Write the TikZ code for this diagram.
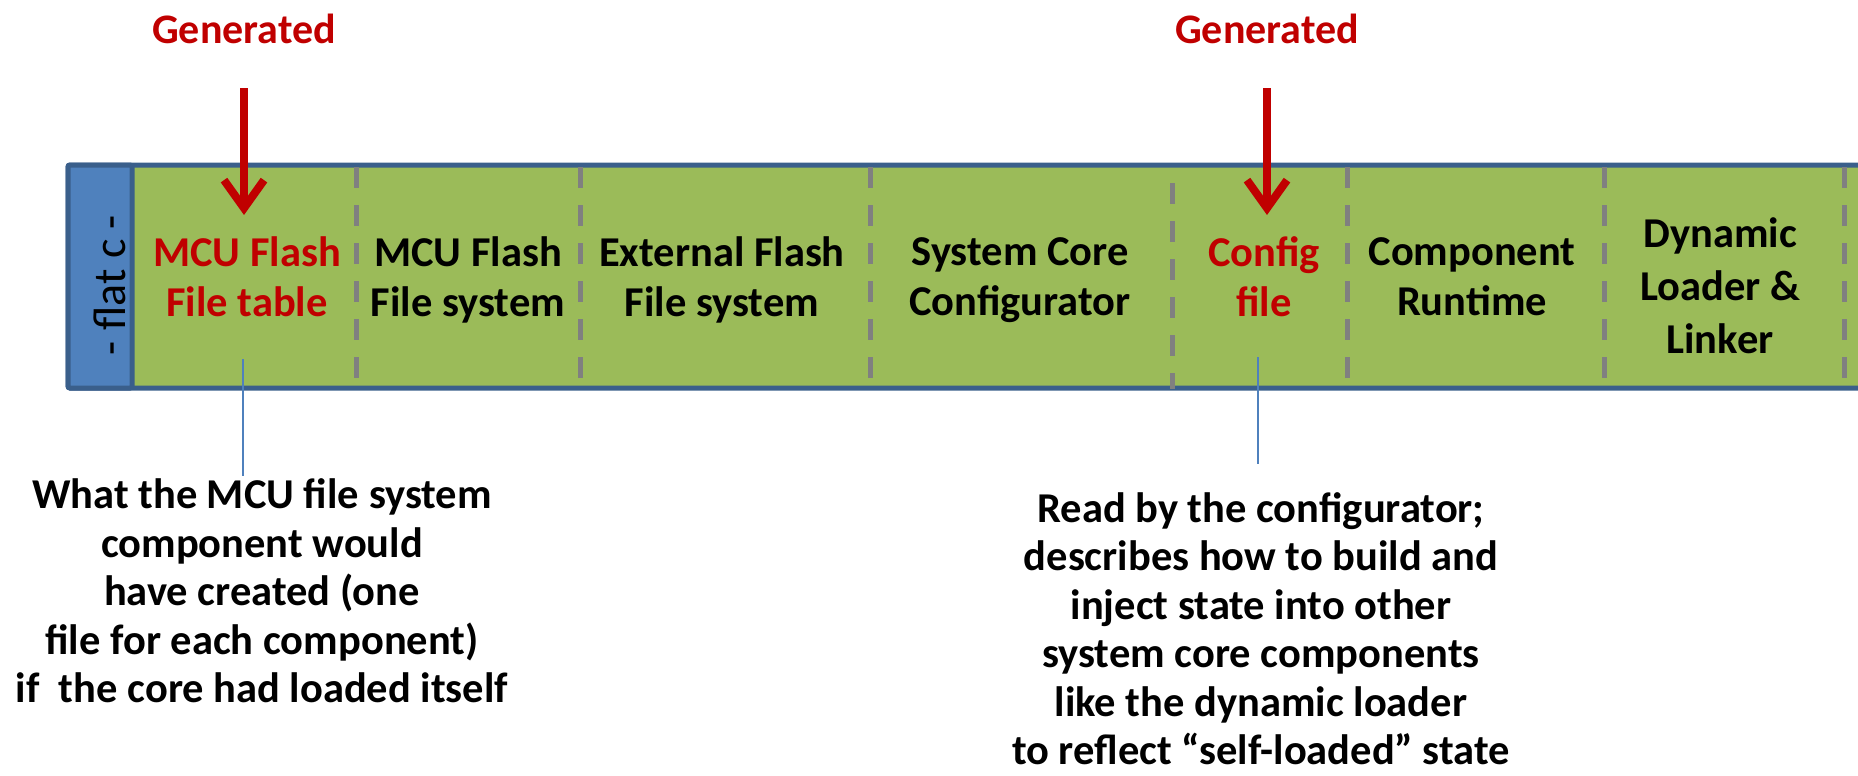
\documentclass[tikz,border=0pt]{standalone}
\usepackage{fontspec}
\setmainfont{Carlito}
\usetikzlibrary{arrows.meta}

\definecolor{barfill}{HTML}{9BBB59}
\definecolor{boxblue}{HTML}{4F81BD}
\definecolor{edgeblue}{HTML}{3A5F8B}
\definecolor{divgray}{HTML}{808080}
\definecolor{genred}{HTML}{C00000}
\definecolor{tapblue}{HTML}{4F81BD}

\tikzset{
  lbl/.style={align=center, inner sep=0pt, text=black,
    font=\bfseries\fontsize{42.5}{50}\selectfont,
    execute at begin node=\strut, execute at end node=\strut},
  redlbl/.style={lbl, text=genred},
  notetext/.style={lbl, font=\bfseries\fontsize{42.5}{48.5}\selectfont},
  gen/.style={inner sep=0pt, text=genred, font=\bfseries\fontsize{42}{50}\selectfont},
  genarrow/.style={draw=genred, line width=8pt,
    -{Straight Barb[length=28pt,width=40pt]}},
  baredge/.style={draw=edgeblue, line width=5pt},
  divider/.style={draw=divgray, line width=5pt, dash pattern=on 21pt off 17pt},
  tap/.style={draw=tapblue, line width=2.5pt},
}

\begin{document}
\begin{tikzpicture}[x=1pt, y=-1pt]
  \useasboundingbox (0,0) rectangle (1858,776);
  \clip (0,0) rectangle (1858,776);

  % the bar of segments (runs off the right edge)
  \fill[barfill] (68,165) rectangle (1880,388);
  \draw[baredge, rounded corners=2pt] (68,165) rectangle (1880,388);
  \filldraw[baredge, fill=boxblue, rounded corners=2pt] (68,165) rectangle (132,388);
  \node[rotate=90, inner sep=0pt, font=\fontsize{46}{50}\selectfont] (flat) at (110,285) {- flat c -};

  % segment boundaries
  \draw[divider] (356,167) -- (356,389);
  \draw[divider] (580,167) -- (580,389);
  \draw[divider] (870,167) -- (870,389);
  \draw[divider] (1172,183) -- (1172,389);
  \draw[divider] (1347,167) -- (1347,389);
  \draw[divider] (1604,167) -- (1604,389);
  \draw[divider] (1844,167) -- (1844,389);

  % segment labels
  \node[redlbl] (ft) at (247,284) {MCU Flash\\File table};
  \node[lbl] (fs) at (468,284) {MCU Flash\\File system};
  \node[lbl] (ef) at (722,284) {External Flash\\File system};
  \node[lbl] (sc) at (1020,284) {System Core\\Configurator};
  \node[redlbl] (cf) at (1264,284) {Config\\file};
  \node[lbl] (cr) at (1472,284) {Component\\Runtime};
  \node[lbl, font=\bfseries\fontsize{42.5}{53}\selectfont] (dl) at (1720,294) {Dynamic\\Loader \&\\Linker};

  % generated parts
  \node[gen] (gen1) at (244,29) {Generated};
  \node[gen] (gen2) at (1267,29) {Generated};
  \coordinate (tip1) at (244,215);
  \coordinate (tip2) at (1267,215);
  \draw[genarrow, shorten <=44pt] (gen1) -- (tip1);
  \draw[genarrow, shorten <=44pt] (gen2) -- (tip2);

  % notes below the bar
  \node[notetext] (notel) at (262,598) {What the MCU file system\\component would\\have created (one\\file for each component)\\if~\ the core had loaded itself};
  \node[notetext] (noter) at (1261,636) {Read by the configurator;\\describes how to build and\\inject state into other\\system core components\\like the dynamic loader\\to reflect “self-loaded” state};
  \coordinate (tap1) at (243,359);
  \coordinate (tap2) at (1258,357);
  \draw[tap, shorten >=3pt] (tap1) -- (tap1 |- notel.north);
  \draw[tap, shorten >=28pt] (tap2) -- (tap2 |- noter.north);
\end{tikzpicture}
\end{document}
